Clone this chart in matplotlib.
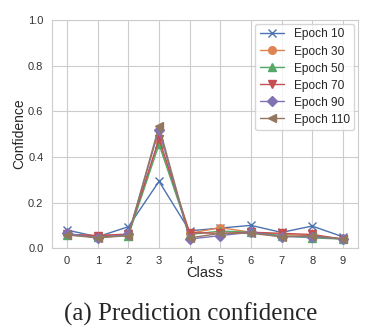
import matplotlib
matplotlib.use("Agg")
import matplotlib.pyplot as plt
import seaborn as sns

classes = list(range(10))
epoch_10 = [0.079, 0.050, 0.094, 0.293, 0.076, 0.088, 0.100, 0.069, 0.097, 0.050]
epoch_30 = [0.060, 0.055, 0.060, 0.470, 0.065, 0.090, 0.070, 0.060, 0.055, 0.040]
epoch_50 = [0.058, 0.050, 0.055, 0.455, 0.060, 0.075, 0.070, 0.055, 0.045, 0.040]
epoch_70 = [0.060, 0.055, 0.062, 0.480, 0.068, 0.065, 0.070, 0.065, 0.060, 0.040]
epoch_90 = [0.065, 0.045, 0.060, 0.520, 0.040, 0.055, 0.070, 0.050, 0.050, 0.040]
epoch_110 = [0.058, 0.045, 0.055, 0.535, 0.045, 0.065, 0.065, 0.050, 0.055, 0.040]

series = [
    ("Epoch 10", epoch_10, "x"),
    ("Epoch 30", epoch_30, "o"),
    ("Epoch 50", epoch_50, "^"),
    ("Epoch 70", epoch_70, "v"),
    ("Epoch 90", epoch_90, "D"),
    ("Epoch 110", epoch_110, "<"),
]

sns.set_style("whitegrid")
plt.rcParams['font.family'] = ['Liberation Sans', 'DejaVu Sans']
colors = sns.color_palette("deep")

fig = plt.figure(figsize=(3.65, 3.3), dpi=100)
ax = fig.add_axes([0.142, 0.248, 0.839, 0.691])

for i, (label, vals, marker) in enumerate(series):
    ax.plot(classes, vals, marker=marker, color=colors[i], label=label,
            linewidth=1.0, markersize=5.5 if marker != "D" else 5)

ax.set_ylim(0, 1.0)
ax.set_xlim(-0.5, 9.5)
ax.set_xticks(classes)
ax.tick_params(labelsize=8, colors="#333333", pad=2.5)
ax.set_xlabel("Class", fontsize=10.5, labelpad=0, color="#262626")
ax.set_ylabel("Confidence", fontsize=10, labelpad=1, color="#262626")
ax.legend(loc="upper right", fontsize=8.6, frameon=True, borderpad=0.4,
          labelspacing=0.42, handlelength=2.0, handletextpad=0.8,
          borderaxespad=0.3)

fig.text(0.523, 0.03, "(a) Prediction confidence", ha="center", va="baseline",
         fontsize=18, family="Liberation Serif")

fig.savefig("out.png", dpi=100)
